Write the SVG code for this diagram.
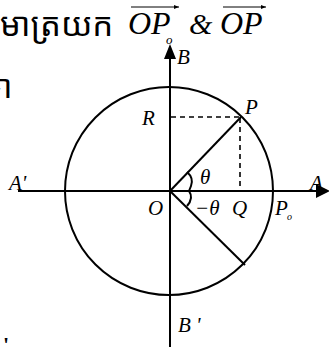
<svg xmlns="http://www.w3.org/2000/svg" width="329" height="347" viewBox="0 0 329 347">
<style>
.ln{stroke:#000;stroke-width:2;fill:none}
.ds{stroke:#000;stroke-width:1.6;fill:none;stroke-dasharray:5,4}
.m{font-family:"Liberation Serif",serif;font-style:italic;fill:#000}
.k{font-family:"Noto Sans Khmer","Khmer OS","DejaVu Sans",sans-serif;fill:#000}
</style>
<defs>
<marker id="sa" viewBox="0 0 10 10" refX="10" refY="5" markerWidth="5" markerHeight="5" orient="auto" markerUnits="userSpaceOnUse"><path d="M0,1L10,5L0,9z" fill="#000"/></marker>
</defs>
<g id="title">
<text class="k" x="0" y="36" font-size="33">មាត្រយក</text>
<text class="m" x="128" y="34" font-size="32">OP</text>
<text class="m" x="166" y="44" font-size="13">o</text>
<line x1="131" y1="7" x2="179" y2="7" stroke="#000" stroke-width="1" marker-end="url(#sa)"/>
<text class="m" x="189" y="34" font-size="30">&amp;</text>
<text class="m" x="220" y="34" font-size="32">OP</text>
<line x1="223" y1="7" x2="266" y2="7" stroke="#000" stroke-width="1" marker-end="url(#sa)"/>
<text class="k" x="-17" y="98" font-size="32">ា</text>
<text x="3" y="352" font-size="22" font-family="Liberation Serif,serif" font-weight="bold">'</text>
</g>
<g id="circle"><circle class="ln" cx="169" cy="191" r="104"/></g>
<g id="connectors">
<line class="ln" x1="18" y1="191" x2="318" y2="191"/>
<path d="M316,184L330,191L316,198z" fill="#000"/>
<line class="ln" x1="170" y1="347" x2="170" y2="56"/>
<path d="M164,59L170,44L176,59z" fill="#000"/>
<line class="ln" x1="170" y1="191" x2="241" y2="117"/>
<line class="ln" x1="170" y1="191" x2="245" y2="265"/>
<line class="ds" x1="171" y1="117" x2="240" y2="117"/>
<line class="ds" x1="240" y1="118" x2="240" y2="191"/>
<path class="ln" d="M187,172Q194,178 191,186L189,191Q194,198 187,206" stroke-width="1.6"/>
</g>
<g id="labels">
<text class="m" x="177" y="64" font-size="21">B</text>
<text class="m" x="142" y="125" font-size="21">R</text>
<text class="m" x="245" y="114" font-size="21">P</text>
<text class="m" x="9" y="190" font-size="21">A'</text>
<text class="m" x="310" y="190" font-size="21">A</text>
<text class="m" x="200" y="184" font-size="21">θ</text>
<text class="m" x="148" y="215" font-size="21">O</text>
<text class="m" x="195" y="215" font-size="21">−θ</text>
<text class="m" x="232" y="215" font-size="21">Q</text>
<text class="m" x="275" y="215" font-size="21">P</text>
<text class="m" x="287" y="220" font-size="10">o</text>
<text class="m" x="178" y="332" font-size="21">B '</text>
</g>
</svg>
